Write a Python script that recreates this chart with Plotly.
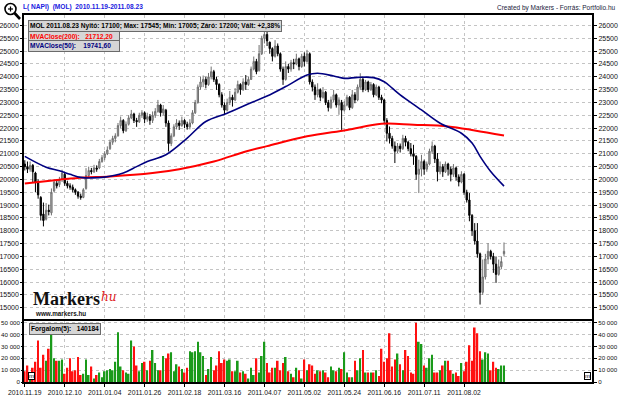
import plotly.graph_objects as go

# ---------------- data ----------------
date_labels = ["2010.11.19", "2010.12.10", "2011.01.04", "2011.01.26", "2011.02.18",
               "2011.03.16", "2011.04.07", "2011.05.02", "2011.05.24", "2011.06.16",
               "2011.07.11", "2011.08.02"]
bars_per_label = 15

opens = [20600, 20500, 20400, 20550, 20250, 19900, 19300, 18650, 18450, 18800,
         18700, 19550, 19850, 19800, 20000, 20200, 19850, 19750, 19700, 19600,
         19500, 19350, 19300, 19650, 20150, 20350, 20300, 20450, 20450, 20700,
         20850, 21000, 21200, 21450, 21600, 21700, 22100, 22300, 21900, 22150,
         22400, 22550, 22300, 22250, 22500, 22600, 22350, 22450, 22300, 22500,
         22650, 22900, 22600, 22700, 22200, 21400, 21700, 22050, 22200, 22100,
         22300, 22150, 22050, 22200, 22600, 23000, 23600, 23800, 23900, 23700,
         24000, 24200, 23900, 23700, 23300, 22900, 22700, 23000, 23200, 23100,
         23400, 23700, 23500, 23800, 23700, 23900, 24300, 24600, 24250, 24900,
         25500, 25650, 25350, 25100, 24800, 25200, 24900, 24300, 23900, 24400,
         24300, 24550, 24500, 24700, 24400, 24800, 24600, 24900, 23800, 23600,
         23300, 23500, 23200, 23400, 23000, 22800, 23100, 23300, 22900, 23000,
         22700, 22900, 23200, 22800, 23300, 23100, 23600, 23900, 23500, 23800,
         23500, 23700, 23300, 23600, 23200, 23100, 22300, 21800, 21600, 21300,
         21100, 21300, 21200, 21600, 21450, 21200, 21000, 20900, 20200, 20400,
         20700, 20400, 20600, 21100, 21300, 20800, 20300, 20500, 20300, 20600,
         20400, 20200, 20450, 20100, 19900, 20200, 19500, 19200, 18600, 18000,
         17600, 17100, 15600, 16200, 16900, 17200, 17000, 16700, 16300, 16600,
         17100]
highs = [20750, 20700, 20700, 20600, 20300, 20000, 19350, 19100, 19080, 19020,
         19650, 20000, 20000, 20100, 20380, 20250, 19950, 19850, 19800, 19650,
         19550, 19450, 19660, 20440, 20500, 20450, 20570, 20550, 20800, 20950,
         21100, 21290, 21550, 21700, 21800, 22200, 22450, 22350, 22260, 22500,
         22710, 22600, 22400, 22600, 22700, 22650, 22600, 22550, 22650, 22780,
         23100, 22950, 22900, 22750, 22300, 21800, 22150, 22350, 22300, 22450,
         22350, 22250, 22350, 22700, 23100, 23700, 24000, 24050, 24000, 24150,
         24400, 24270, 24000, 23750, 23400, 23000, 23150, 23450, 23300, 23560,
         23850, 23750, 23940, 24070, 24000, 24400, 24790, 24700, 25240, 25600,
         25850, 25760, 25370, 25150, 25430, 25300, 24950, 24400, 24600, 24500,
         24660, 24700, 24900, 24750, 24900, 24950, 25050, 24950, 23900, 23700,
         23750, 23550, 23600, 23450, 23100, 23230, 23490, 23350, 23200, 23100,
         23050, 23300, 23250, 23490, 23400, 23700, 24140, 24000, 23880, 23850,
         23800, 23750, 23700, 23650, 23300, 23150, 22390, 22065, 21700, 21480,
         21420, 21400, 21740, 21700, 21500, 21420, 21350, 20950, 20770, 20960,
         20770, 20700, 21200, 21480, 21350, 21030, 20700, 20600, 20700, 20650,
         20500, 20600, 20500, 20200, 20320, 20250, 19600, 19470, 18650, 18300,
         18300, 17150, 16880, 17100, 17520, 17260, 17140, 17000, 16880, 17000,
         17545]
lows = [20350, 20250, 20300, 19900, 19500, 19250, 18400, 18170, 18400, 18600,
        18600, 19500, 19650, 19700, 19900, 19750, 19650, 19600, 19500, 19400,
        19250, 19210, 19270, 19600, 20100, 20200, 20250, 20300, 20400, 20650,
        20750, 20950, 21150, 21350, 21450, 21670, 22000, 21800, 21850, 22100,
        22350, 22200, 22050, 22200, 22400, 22200, 22250, 22130, 22200, 22400,
        22600, 22450, 22500, 22050, 21090, 21300, 21650, 21950, 21930, 22050,
        22000, 21940, 21950, 22150, 22550, 22950, 23500, 23600, 23550, 23650,
        23900, 23800, 23490, 23200, 22800, 22520, 22650, 22900, 22840, 23050,
        23350, 23300, 23450, 23490, 23650, 23880, 24250, 24100, 24200, 24850,
        25300, 25200, 24900, 24600, 24750, 24800, 24200, 23685, 23850, 24150,
        24200, 24300, 24450, 24250, 24350, 24400, 24550, 23700, 23430, 23100,
        23200, 23050, 23150, 22900, 22650, 22750, 23000, 22800, 22520, 21930,
        22650, 22850, 22700, 22750, 22970, 23050, 23500, 23400, 23450, 23400,
        23450, 23200, 23250, 23100, 22970, 22190, 21480, 21400, 21200, 20640,
        21030, 21050, 21150, 21290, 21100, 20900, 20570, 19990, 19470, 20120,
        20180, 20300, 20550, 21000, 20640, 19925, 20200, 20100, 20250, 20150,
        19925, 20100, 19950, 19730, 19850, 19400, 19100, 18370, 17800, 17460,
        16950, 15125, 15500, 16100, 16700, 16880, 16360, 15970, 16250, 16500,
        17005]
closes = [20500, 20400, 20550, 20300, 19900, 19400, 18600, 18400, 18800, 18750,
          19500, 19900, 19750, 20000, 20250, 19850, 19750, 19700, 19600, 19500,
          19350, 19300, 19600, 20150, 20350, 20300, 20450, 20400, 20700, 20850,
          21000, 21150, 21450, 21600, 21700, 22100, 22300, 21900, 22150, 22400,
          22550, 22300, 22250, 22500, 22600, 22350, 22450, 22300, 22500, 22650,
          22900, 22600, 22750, 22200, 21400, 21700, 22050, 22200, 22100, 22300,
          22150, 22050, 22200, 22600, 23000, 23600, 23800, 23900, 23700, 24000,
          24200, 23900, 23700, 23300, 22900, 22700, 23000, 23200, 23100, 23400,
          23700, 23500, 23800, 23700, 23900, 24300, 24600, 24200, 24900, 25500,
          25650, 25400, 25100, 24800, 25200, 24900, 24300, 23900, 24400, 24300,
          24550, 24500, 24700, 24400, 24800, 24600, 24900, 23800, 23600, 23300,
          23500, 23200, 23400, 23000, 22800, 23100, 23300, 22900, 23100, 22700,
          22900, 23200, 22800, 23300, 23100, 23600, 23900, 23500, 23800, 23500,
          23700, 23300, 23600, 23200, 23100, 22300, 21800, 21600, 21300, 21100,
          21300, 21200, 21600, 21450, 21200, 21000, 20900, 20200, 20400, 20700,
          20400, 20600, 21100, 21300, 20800, 20300, 20500, 20300, 20600, 20400,
          20200, 20450, 20100, 19900, 20200, 19500, 19200, 18600, 18000, 17600,
          17100, 15600, 16200, 16900, 17200, 17000, 16700, 16300, 16600, 16800,
          17200]
volumes_k = [9, 14, 8, 12, 17, 35, 12, 23, 18, 28,
             41, 20, 18, 18, 19, 7, 12, 20, 9, 10,
             21, 6, 7, 19, 6, 13, 3, 6, 8, 4,
             9, 10, 11, 10, 17, 42, 13, 10, 8, 7,
             35, 30, 14, 9, 16, 17, 10, 18, 27, 16,
             10, 10, 22, 20, 24, 25, 9, 15, 13, 11,
             8, 12, 26, 25, 26, 34, 25, 22, 6, 11,
             21, 10, 14, 26, 16, 19, 18, 19, 9, 9,
             18, 8, 9, 7, 3, 12, 6, 20, 8, 22,
             34, 16, 8, 12, 12, 18, 10, 16, 21, 9,
             7, 4, 12, 10, 3, 19, 10, 15, 14, 7,
             10, 9, 10, 8, 4, 13, 10, 9, 12, 11,
             25, 8, 4, 4, 18, 10, 20, 27, 8, 8,
             8, 8, 10, 5, 28, 17, 20, 41, 13, 19,
             24, 15, 10, 27, 22, 8, 7, 50, 34, 32,
             14, 12, 20, 23, 8, 8, 10, 14, 18, 18,
             10, 7, 8, 5, 16, 9, 17, 31, 18, 46,
             41, 26, 19, 25, 24, 10, 17, 12, 11, 14,
             14]

ma200_idx = [0, 13, 22, 32, 48, 58, 71, 83, 91, 106, 121, 134, 146, 159, 169, 180]
ma200_val = [19840, 19990, 20080, 20120, 20250, 20400, 20700, 21090, 21300, 21680,
             21930, 22170, 22130, 22065, 21910, 21712.2]
ma50_idx = [0, 8, 13, 17, 21, 25, 30, 37, 42, 46, 53, 61, 68, 76, 83, 91, 98, 106,
            110, 116, 120, 125, 131, 135, 138, 141, 149, 156, 164, 168, 171, 175, 180]
ma50_val = [20900, 20480, 20340, 20200, 20080, 20060, 20090, 20250, 20500, 20700,
            20960, 21610, 22260, 22580, 22900, 23250, 23620, 24070, 24140, 24030,
            23940, 23980, 23970, 23810, 23560, 23300, 22710, 22190, 21800, 21420,
            20900, 20310, 19741.6]

vol_tick_values = [0, 10000, 20000, 30000, 40000, 50000]
vol_tick_labels = ["0", "10 000", "20 000", "30 000", "40 000", "50 000"]

info_text = "MOL 2011.08.23 Nyitó: 17100; Max: 17545; Min: 17005; Záró: 17200; Vált: +2,38%"
ma200_text = "MVAClose(200):   21712,20"
ma50_text = "MVAClose(50):    19741,60"
volume_text = "Forgalom(5):   140184"
title_text = "L( NAPI)  (MOL)  2010.11.19-2011.08.23"
credit_text = "Created by Markers - Forrás: Portfolio.hu"

# ---------------- layout helpers ----------------
W, H = 620, 397
ML, MR, MT, MB = 24, 28, 15, 15
PW, PH = W - ML - MR, H - MT - MB


def px(x):
    return (x - ML) / PW


def py(y):
    return (H - MB - y) / PH


n = len(closes)
xs = list(range(n))
volumes = [v * 1000 for v in volumes_k]
vol_colors = ["#1a9a1a" if c >= o else "#ff1010" for o, c in zip(opens, closes)]
tickvals = [i * bars_per_label for i in range(len(date_labels))]

FONT = "Liberation Sans, Arial, sans-serif"
GRID = "#c4c4c4"
TICKFONT = dict(family=FONT, size=7, color="#111111")
VOLFONT = dict(family=FONT, size=6.2, color="#111111")

fig = go.Figure()

fig.add_trace(go.Candlestick(
    x=xs, open=opens, high=highs, low=lows, close=closes,
    increasing=dict(line=dict(color="#707070", width=1), fillcolor="#b4b4b4"),
    decreasing=dict(line=dict(color="#000000", width=1), fillcolor="#000000"),
    whiskerwidth=0, showlegend=False, hoverinfo="skip",
    xaxis="x", yaxis="y"))
fig.add_trace(go.Scatter(
    x=ma200_idx, y=ma200_val, mode="lines",
    line=dict(color="#ff0000", width=2, shape="spline"),
    showlegend=False, hoverinfo="skip", xaxis="x", yaxis="y"))
fig.add_trace(go.Scatter(
    x=ma50_idx, y=ma50_val, mode="lines",
    line=dict(color="#000080", width=1.6, shape="spline"),
    showlegend=False, hoverinfo="skip", xaxis="x", yaxis="y"))
# invisible helper so the right-hand price axis is drawn
fig.add_trace(go.Scatter(x=[0], y=[closes[0]], mode="markers", marker=dict(opacity=0),
                         showlegend=False, hoverinfo="skip", xaxis="x", yaxis="y3"))

fig.add_trace(go.Bar(
    x=xs, y=volumes, marker=dict(color=vol_colors, line=dict(width=0)), width=0.62,
    showlegend=False, hoverinfo="skip", xaxis="x2", yaxis="y2"))
fig.add_trace(go.Scatter(x=[0], y=[0], mode="markers", marker=dict(opacity=0),
                         showlegend=False, hoverinfo="skip", xaxis="x2", yaxis="y4"))

xrange = [-0.3, 213.05]
price_range = [14562, 26409]
vol_range = [0, 51850]
price_dom = [py(319), 1]
vol_dom = [0, py(320.5)]

common_x = dict(range=xrange, tickmode="array", tickvals=tickvals, showgrid=True,
                gridcolor=GRID, griddash="dot", gridwidth=1, zeroline=False,
                showline=True, linecolor="black", linewidth=1.5, mirror=True,
                fixedrange=True, automargin=False)
common_y = dict(zeroline=False, showline=True, linecolor="black", tickcolor="black",
                fixedrange=True, automargin=False)
fig.update_layout(
    width=W, height=H,
    margin=dict(l=ML, r=MR, t=MT, b=MB, autoexpand=False),
    paper_bgcolor="white", plot_bgcolor="white",
    showlegend=False,
    xaxis=dict(**common_x, domain=[0, 1], anchor="y", showticklabels=False,
               ticks="", rangeslider=dict(visible=False)),
    xaxis2=dict(**common_x, domain=[0, 1], anchor="y2", matches="x",
                ticktext=date_labels, showticklabels=True, ticks="outside",
                ticklen=3, tickcolor="black", tickangle=0,
                tickfont=dict(family=FONT, size=6.8, color="#111111")),
    yaxis=dict(**common_y, domain=price_dom, range=price_range, dtick=500, tick0=15000,
               tickformat="d", side="left", showgrid=True, gridcolor=GRID,
               griddash="dot", linewidth=1.5, ticks="outside", ticklen=2,
               tickfont=TICKFONT),
    yaxis3=dict(**common_y, overlaying="y", range=price_range, dtick=500, tick0=15000,
                tickformat="d", side="right", showgrid=False, linewidth=2,
                ticks="outside", ticklen=3, anchor="x", tickfont=TICKFONT),
    yaxis2=dict(**common_y, domain=vol_dom, range=vol_range, tickmode="array",
                tickvals=vol_tick_values, ticktext=vol_tick_labels, side="left",
                showgrid=True, gridcolor=GRID, griddash="dot", linewidth=1.5,
                ticks="outside", ticklen=1, anchor="x2", tickfont=VOLFONT),
    yaxis4=dict(**common_y, overlaying="y2", range=vol_range, tickmode="array",
                tickvals=vol_tick_values, ticktext=vol_tick_labels, side="right",
                showgrid=False, linewidth=2, ticks="outside", ticklen=3, anchor="x2",
                tickfont=VOLFONT),
)

ann = []
# header texts
ann.append(dict(text="<b>" + title_text + "</b>", x=px(21), y=py(7.5), xref="paper",
                yref="paper", xanchor="left", yanchor="middle", showarrow=False,
                font=dict(family=FONT, size=6.6, color="#2020e0")))
ann.append(dict(text=credit_text, x=px(618), y=py(8), xref="paper", yref="paper",
                xanchor="right", yanchor="middle", showarrow=False,
                font=dict(family=FONT, size=6.5, color="#1a1a3a")))
# info boxes
BOX = dict(xref="paper", yref="paper", xanchor="left", yanchor="middle",
           showarrow=False, align="left", bgcolor="#d6d6d6", bordercolor="#6a6a6a",
           borderwidth=1, borderpad=1)
ann.append(dict(**BOX, text="<b>" + info_text + "</b>", x=px(28), y=py(26.3),
                font=dict(family=FONT, size=6.6, color="#000000")))
ann.append(dict(**BOX, text="<b>" + ma200_text + "</b>", x=px(28), y=py(36.5),
                width=88, font=dict(family=FONT, size=6.6, color="#ff0000")))
ann.append(dict(**BOX, text="<b>" + ma50_text + "</b>", x=px(28), y=py(45.8),
                width=88, font=dict(family=FONT, size=6.6, color="#000080")))
ann.append(dict(**BOX, text="<b>" + volume_text + "</b>", x=px(29), y=py(328.5),
                font=dict(family=FONT, size=6.6, color="#000000")))
# logo
ann.append(dict(text="<b>Markers</b>", x=px(31), y=py(298.5), xref="paper", yref="paper",
                xanchor="left", yanchor="middle", showarrow=False,
                font=dict(family="Liberation Serif, Times New Roman, serif", size=18,
                          color="#111111")))
ann.append(dict(text="<i>hu</i>", x=px(99), y=py(297), xref="paper", yref="paper",
                xanchor="left", yanchor="middle", showarrow=False,
                font=dict(family="DejaVu Serif, serif", size=12, color="#e01818")))
ann.append(dict(text="<b>www.markers.hu</b>", x=px(33), y=py(313.6), xref="paper",
                yref="paper", xanchor="left", yanchor="middle", showarrow=False,
                font=dict(family=FONT, size=6.3, color="#111111")))
# small "m" buttons
for bx in (31, 587):
    ann.append(dict(text="m", x=px(bx), y=py(375.5), xref="paper", yref="paper",
                    xanchor="center", yanchor="middle", showarrow=False,
                    bgcolor="white", bordercolor="black", borderwidth=1, borderpad=0,
                    font=dict(family=FONT, size=6, color="black")))
fig.update_layout(annotations=ann)

# magnifier icon
shapes = [
    dict(type="circle", xref="paper", yref="paper", x0=px(5), x1=px(16), y0=py(14.5),
         y1=py(3.5), line=dict(color="black", width=1.6), fillcolor="white"),
    dict(type="line", xref="paper", yref="paper", x0=px(14.5), y0=py(13),
         x1=px(20), y1=py(19), line=dict(color="black", width=2.6)),
    dict(type="line", xref="paper", yref="paper", x0=px(8), y0=py(9), x1=px(13),
         y1=py(9), line=dict(color="black", width=1.2)),
    dict(type="line", xref="paper", yref="paper", x0=px(10.5), y0=py(6.5), x1=px(10.5),
         y1=py(11.5), line=dict(color="black", width=1.2)),
]
fig.update_layout(shapes=shapes)

fig.write_html("out.html", config={"displayModeBar": False},
               post_script="document.body.style.margin='0';document.body.style.padding='0';")
